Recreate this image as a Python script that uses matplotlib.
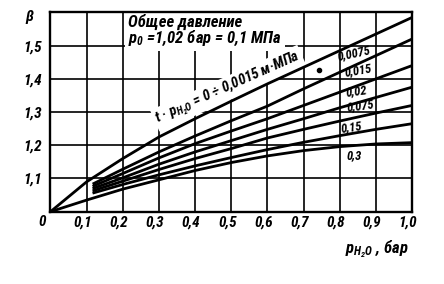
import numpy as np
import matplotlib
matplotlib.use("Agg")
import matplotlib.pyplot as plt
import matplotlib.transforms as mtransforms

# --- data ---
x_full = [0.0, 0.1, 0.2, 0.3, 0.4, 0.5, 0.6, 0.7, 0.8, 0.9, 1.0]
x_fan = [0.12, 0.2, 0.3, 0.4, 0.5, 0.6, 0.7, 0.8, 0.9, 1.0]

beta_top = [1.0, 1.09, 1.16, 1.225, 1.28, 1.333, 1.385, 1.435, 1.485, 1.535, 1.585]
beta_0075 = [1.085, 1.128, 1.18, 1.228, 1.274, 1.318, 1.37, 1.42, 1.47, 1.52]
beta_015 = [1.078, 1.115, 1.162, 1.205, 1.243, 1.28, 1.32, 1.36, 1.40, 1.44]
beta_02 = [1.071, 1.102, 1.143, 1.18, 1.214, 1.248, 1.28, 1.313, 1.344, 1.375]
beta_075 = [1.064, 1.092, 1.127, 1.16, 1.19, 1.222, 1.248, 1.273, 1.297, 1.32]
beta_15 = [1.057, 1.082, 1.111, 1.138, 1.163, 1.187, 1.209, 1.229, 1.248, 1.265]
beta_3 = [1.0, 1.035, 1.068, 1.096, 1.124, 1.148, 1.168, 1.184, 1.196, 1.204, 1.208]

fan_curves = [beta_0075, beta_015, beta_02, beta_075, beta_15]

curve_labels = ["0,0075", "0,015", "0,02", "0,075", "0,15", "0,3"]
label_pos = [(0.838, 1.478), (0.852, 1.425), (0.845, 1.362),
             (0.857, 1.318), (0.832, 1.254), (0.840, 1.168)]
label_rot = [12, 10, 8, 8, 8, 0]

stray_dot = (0.742, 1.427)

xticks = [0.0, 0.1, 0.2, 0.3, 0.4, 0.5, 0.6, 0.7, 0.8, 0.9, 1.0]
xticklabels = ["0", "0,1", "0,2", "0,3", "0,4", "0,5", "0,6", "0,7", "0,8", "0,9", "1,0"]
yticks = [1.0, 1.1, 1.2, 1.3, 1.4, 1.5, 1.6]
yticklabels = ["", "1,1", "1,2", "1,3", "1,4", "1,5", ""]

# --- style ---
FONT = ["Roboto Condensed", "Liberation Sans Narrow", "DejaVu Sans"]
plt.rcParams["font.family"] = FONT
plt.rcParams["font.style"] = "italic"
plt.rcParams["font.weight"] = "bold"
plt.rcParams["mathtext.fontset"] = "custom"
plt.rcParams["mathtext.rm"] = "Roboto Condensed:italic:bold"
plt.rcParams["mathtext.it"] = "Roboto Condensed:italic:bold"

fig = plt.figure(figsize=(4.44, 2.84), dpi=100)
ax = fig.add_axes([0.1137, 0.2546, 0.8142, 0.7014])

ax.set_xlim(0, 1.0)
ax.set_ylim(1.0, 1.6)
ax.set_xticks(xticks)
ax.set_yticks(yticks)
ax.set_xticklabels(xticklabels, fontsize=11)
ax.set_yticklabels(yticklabels, fontsize=11)
ax.tick_params(axis="x", length=0, pad=2.5)
ax.tick_params(axis="y", length=0, pad=6)
ax.grid(True, color="black", lw=1.2)
ax.set_axisbelow(True)
for s in ax.spines.values():
    s.set_linewidth(1.7)

# shift x tick labels a little to the left like the drawing
off = mtransforms.ScaledTranslation(-0.04, 0, fig.dpi_scale_trans)
for i, lab in enumerate(ax.get_xticklabels()):
    extra = mtransforms.ScaledTranslation(-0.08, 0, fig.dpi_scale_trans) if i == 0 else off
    lab.set_transform(lab.get_transform() + extra)

lw = 2.0
ax.plot(x_full, beta_top, color="black", lw=lw, zorder=3)
for b in fan_curves:
    ax.plot(x_fan, b, color="black", lw=lw, zorder=3)
ax.plot(x_full, beta_3, color="black", lw=lw, zorder=3)
ax.plot(*stray_dot, "o", color="black", ms=3, zorder=4)

for txt, (lx, ly), r in zip(curve_labels, label_pos, label_rot):
    ax.text(lx, ly, txt, fontsize=9, rotation=r, ha="center", va="center", zorder=5)

# top curve label (white background hides the grid, not the curves)
ax.text(0.492, 1.372, "t · $p_{H_2O}$ = 0 ÷ 0,0015 м·МПа", fontsize=10.5,
        rotation=24, ha="center", va="center", rotation_mode="anchor",
        bbox=dict(facecolor="white", edgecolor="none", pad=1.5), zorder=2.5)

# total pressure note
ax.text(0.215, 1.595, "Общее давление\n$p_0$ =1,02 бар = 0,1 МПа", fontsize=12,
        ha="left", va="top", linespacing=0.9,
        bbox=dict(facecolor="white", edgecolor="none", pad=2), zorder=2.5)

ax.text(-0.058, 0.975, "β", transform=ax.transAxes, fontsize=11,
        ha="center", va="center")
ax.text(0.903, -0.19, "$p_{H_2O}$ , бар", transform=ax.transAxes, fontsize=12,
        ha="center", va="center")

fig.savefig("out.png", dpi=100)
